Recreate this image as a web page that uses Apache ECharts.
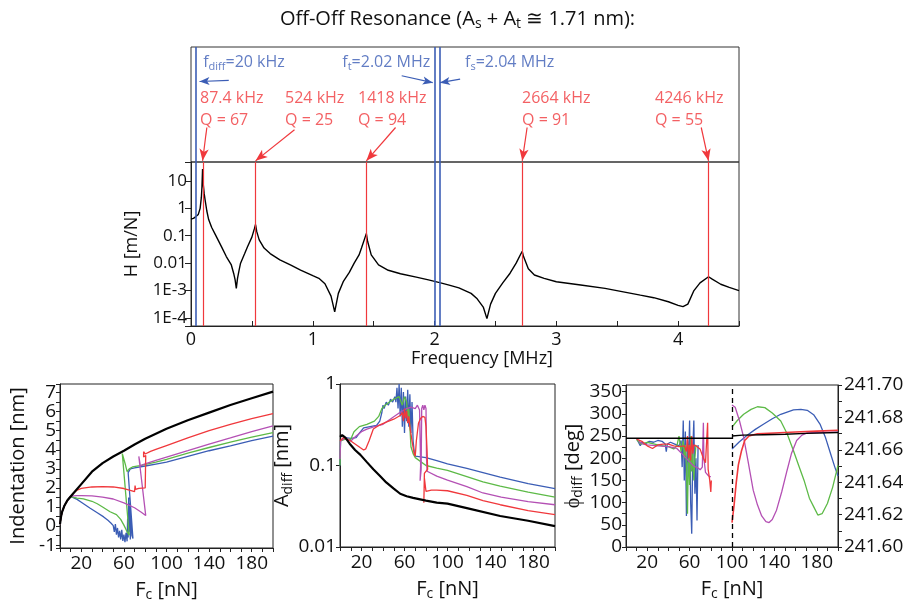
<!DOCTYPE html>
<html><head><meta charset="utf-8">
<script src="https://cdn.jsdelivr.net/npm/echarts@6/dist/echarts.min.js"></script>
<style>html,body{margin:0;padding:0;background:#fff}#c{width:915px;height:610px}</style>
</head><body><div id="c"></div>
<script>
// ---------- DATA ----------
// Main transfer function H(f): frequency [MHz], H [m/N]
const hFreq = [0,0.02,0.04,0.06,0.075,0.085,0.09,0.095,0.1,0.108,0.116,0.13,0.145,0.17,0.2,0.25,0.29,0.33,0.35,0.362,0.372,0.382,0.395,0.407,0.44,0.465,0.5,0.52,0.53,0.54,0.56,0.6,0.65,0.73,0.82,0.9,1.0,1.05,1.1,1.15,1.18,1.21,1.25,1.3,1.34,1.38,1.4,1.43,1.44,1.45,1.48,1.54,1.62,1.72,1.85,1.95,2.05,2.12,2.2,2.3,2.35,2.4,2.43,2.46,2.5,2.56,2.62,2.67,2.71,2.72,2.73,2.77,2.82,2.9,3.0,3.2,3.4,3.55,3.69,3.8,3.92,4.0,4.04,4.08,4.13,4.18,4.25,4.28,4.35,4.42,4.5];
const hVal = [0.41,0.43,0.5,0.6,1.0,2.5,6,27,8,3.5,2.0,0.8,0.39,0.2,0.11,0.04,0.0174,0.0089,0.0043,0.0025,0.0012,0.0028,0.0056,0.01,0.022,0.0407,0.089,0.178,0.257,0.141,0.0708,0.0355,0.0224,0.0132,0.0085,0.0056,0.0035,0.0028,0.00178,0.00063,0.000166,0.00079,0.0021,0.0046,0.01,0.02,0.0355,0.089,0.12,0.063,0.02,0.0087,0.0055,0.0041,0.0031,0.00245,0.0019,0.00158,0.00125,0.00079,0.0005,0.00025,0.000095,0.00032,0.00079,0.0019,0.0043,0.01,0.0224,0.0269,0.0178,0.0063,0.0037,0.0028,0.0021,0.0016,0.0012,0.0009,0.00068,0.00055,0.00039,0.00029,0.00026,0.00032,0.001,0.0019,0.0032,0.0026,0.0017,0.0013,0.001];
const hTickExp = [1,0,-1,-2,-3,-4];
const hTickLabels = ['10','1','0.1','0.01','1E-3','1E-4'];

// Resonances (red) and drive frequencies (blue), MHz
const peakMHz = [0.095,0.53,1.44,2.72,4.25];
const peakKHzText = ['87.4','524','1418','2664','4246'];
const peakQ = [67,25,94,91,55];
const blueMHz = [0.035,2.0,2.035];
const blueSub = ['diff','t','s'];
const blueValText = ['20 kHz','2.02 MHz','2.04 MHz'];

// Indentation [nm] vs Fc [nN]
const indBlack = [[0,0.1],[1,0.5],[2,0.75],[4,1.05],[7,1.35],[12,1.68],[20,2.2],[30,2.85],[40,3.3],[50,3.65],[60,3.95],[70,4.28],[80,4.58],[100,5.1],[120,5.55],[140,5.95],[160,6.35],[180,6.7],[200,7.05]];
const indRed = [[0,0.1],[1,0.5],[2,0.75],[4,1.05],[7,1.35],[10,1.55],[13,1.75],[16,1.88],[20,1.98],[30,2.05],[40,2.07],[50,2.05],[60,1.97],[66,1.87],[70,1.8],[70.5,2.12],[71,1.92],[74,1.98],[80,2.0],[80.5,3.7],[78.5,3.62],[78.5,3.9],[80,3.78],[85,3.92],[90,4.02],[100,4.22],[120,4.62],[140,5.0],[160,5.33],[180,5.63],[200,5.9]];
const indPurple = [[0,0.1],[1,0.5],[2,0.75],[4,1.05],[7,1.35],[10,1.55],[13,1.58],[16,1.6],[20,1.6],[30,1.58],[40,1.52],[50,1.42],[60,1.22],[70,0.96],[76,0.74],[80.5,0.55],[74,3.65],[75.5,3.15],[78,3.22],[82,3.3],[90,3.45],[100,3.62],[120,3.95],[140,4.3],[160,4.62],[180,4.95],[200,5.25]];
const indGreen = [[0,0.1],[1,0.5],[2,0.75],[4,1.05],[7,1.35],[10,1.55],[13,1.5],[16,1.47],[22,1.43],[30,1.3],[35,1.17],[40,1.0],[47,0.75],[53,0.6],[57,0.35],[60,0.05],[63,-0.3],[65,-0.48],[58.5,3.8],[61.5,3.2],[63,2.85],[65,3.0],[68,3.1],[75,3.17],[90,3.35],[100,3.5],[120,3.82],[140,4.12],[160,4.4],[180,4.66],[200,4.9]];
const indBlue = [[0,0.1],[1,0.5],[2,0.75],[4,1.05],[7,1.35],[10,1.55],[13,1.48],[16,1.4],[20,1.25],[28,0.95],[35,0.7],[41,0.48],[45,0.3],[48,0.15],[50,0.02],[51,-0.3],[52,0.1],[53,-0.45],[54,-0.1],[55,-0.6],[56,-0.25],[57,-0.7],[58,-0.2],[59,-0.78],[60,-0.45],[61,-0.85],[62,-0.35],[63,-0.8],[63.5,0.4],[64,-0.6],[64.5,1.5],[65,-0.3],[65.5,1.2],[66,-0.7],[66.5,0.6],[67.5,-0.5],[68.5,-0.65],[64,2.8],[66,3.0],[70,3.05],[80,3.15],[90,3.25],[100,3.35],[120,3.65],[140,3.95],[160,4.2],[180,4.48],[200,4.72]];

// A_diff [nm] vs Fc [nN]
const adBlack = [[0,0.225],[2,0.235],[5,0.22],[9,0.185],[14,0.155],[19,0.135],[25,0.11],[31,0.09],[37,0.075],[43,0.062],[50,0.052],[56,0.045],[62,0.042],[68,0.04],[80,0.037],[90,0.035],[100,0.034],[118,0.03],[149,0.024],[175,0.021],[200,0.018]];
const adBlue = [[0,0.1],[0.5,0.2],[2,0.21],[5,0.22],[10,0.215],[15,0.22],[18,0.25],[22,0.29],[28,0.3],[34,0.31],[37,0.35],[39,0.45],[40,0.55],[41,0.5],[43,0.6],[45,0.55],[47,0.65],[49,0.6],[51,0.7],[52,0.6],[53,0.9],[54,0.5],[55,1.0],[56,0.4],[57,0.9],[58,0.3],[59,0.8],[60,0.25],[61,0.7],[62,0.35],[63,0.85],[64,0.3],[65,0.75],[66,0.25],[67,0.6],[68,0.2],[69,0.15],[70,0.13],[80,0.125],[90,0.115],[100,0.105],[118,0.092],[133,0.082],[149,0.072],[175,0.06],[200,0.052]];
const adGreen = [[0,0.1],[0.5,0.2],[5,0.21],[10,0.21],[13,0.26],[18,0.3],[25,0.32],[32,0.35],[36,0.4],[39,0.5],[42,0.55],[46,0.6],[50,0.65],[55,0.7],[58,0.55],[60,0.7],[62,0.6],[63,0.4],[64,0.5],[65,0.3],[66,0.17],[68,0.14],[70,0.125],[80,0.1],[90,0.093],[100,0.087],[118,0.073],[133,0.063],[149,0.056],[175,0.047],[200,0.041]];
const adPurple = [[0,0.12],[0.5,0.2],[5,0.22],[10,0.2],[15,0.23],[20,0.26],[25,0.28],[32,0.3],[40,0.32],[48,0.38],[56,0.45],[62,0.5],[66,0.52],[70,0.5],[72,0.55],[74,0.48],[75,0.1],[74.5,0.065],[75.5,0.09],[76,0.5],[77,0.55],[78,0.48],[79,0.55],[80,0.5],[80.5,0.12],[81,0.085],[90,0.074],[100,0.066],[118,0.055],[133,0.046],[150,0.041],[175,0.036],[200,0.033]];
const adRed = [[0,0.2],[3,0.22],[6,0.21],[10,0.2],[15,0.18],[19,0.165],[22,0.155],[24,0.16],[27,0.2],[31,0.28],[36,0.31],[43,0.34],[50,0.37],[56,0.41],[58,0.45],[59,0.35],[60,0.5],[61,0.38],[62,0.47],[63,0.33],[64,0.4],[65,0.3],[67,0.2],[69,0.14],[70,0.13],[71,0.2],[73,0.33],[75,0.38],[77,0.4],[79,0.39],[80,0.3],[81,0.15],[81.5,0.09],[78.5,0.08],[78,0.035],[78.5,0.07],[80,0.048],[85,0.05],[90,0.05],[100,0.049],[118,0.043],[133,0.037],[149,0.033],[175,0.028],[200,0.025]];
const adTickExp = [0,-1,-2];
const adTickLabels = ['1','0.1','0.01'];

// phi_diff [deg] vs Fc [nN]
const phSplitF = 100;
const phBlackL = [[0,245],[100,245]];
const phBlackR = [[100,250],[110,252],[130,253],[150,254],[170,256],[200,258]];
const phBlue = [[10,245],[12,235],[13.5,228],[15,236],[18,232],[22,238],[26,236],[30,240],[34,238],[37,232],[38,215],[39,232],[42,236],[46,232],[50,228],[52,240],[53,180],[54,285],[55,150],[56,260],[57,70],[58,240],[59,190],[60,285],[61,100],[62,30],[63,220],[64,285],[65,120],[66,200],[67,60],[68,230]];
const phBlueR = [[100,221],[107,237],[114,251],[122,265],[130,277],[138,289],[146,299],[152,304],[158,309],[165,310],[171,308],[177,298],[183,277],[188,248],[193,210],[197,180],[200,160]];
const phGreen = [[10,242],[14,232],[20,236],[25,233],[30,230],[35,228],[40,226],[45,221],[48,228],[50,250],[52,215],[54,240],[55,200],[56,230],[57,180],[58,75],[59,230],[60,140],[61,250],[62,170],[63,210],[64,150],[65,200],[66,230]];
const phGreenR = [[100,270],[105,285],[111,299],[118,310],[124,316],[131,314],[138,302],[146,284],[152,255],[158,217],[163,183],[168,150],[173,110],[177,91],[181,72],[185,75],[190,98],[195,135],[200,184]];
const phPurple = [[12,238],[16,232],[20,230],[30,228],[40,226],[48,222],[52,212],[56,202],[60,192],[64,182],[68,178],[70,174],[72,180],[73,280],[73.5,200],[75,168],[78,160],[80,158]];
const phPurpleR = [[100,320],[101,322],[103,315],[107,285],[111,247],[115,195],[120,128],[124,95],[128,70],[132,57],[135,55],[138,62],[142,83],[147,125],[152,173],[156,210],[161,240],[166,252],[171,257],[180,258],[200,259]];
const phRed = [[10,243],[15,238],[20,228],[25,222],[30,230],[35,232],[40,232],[45,228],[50,226],[55,228],[57,215],[58,250],[59,200],[60,230],[61,195],[62,250],[63,210],[64,230],[66,228],[70,220],[73,200],[75,190],[77,280],[77.5,175],[79,150],[80,124],[80.5,150]];
const phRedR = [[100,55],[102,95],[104,145],[106,185],[109,217],[112,240],[116,250],[124,255],[140,257],[160,259],[180,261],[200,263]];

// ---------- LAYOUT / STYLE ----------
const FONT = 'Open Sans';
const COL = {blue:'#3b5db5', green:'#5dba47', purple:'#b450b4', red:'#f0383c', black:'#000', axis:'#222'};
// annotation anchors inside the top box (x in MHz, y in 0..1 of box)
const redLabelX = [0.074,0.772,1.371,2.718,3.81];
const redTail = [[0.13,0.3],[0.85,0.28],[1.68,0.3],[2.76,0.3],[4.19,0.3]];
const blueLabelPos = [[0.1,0.87,'right'],[1.965,0.87,'left'],[2.25,0.87,'right']];
const blueTail = [[0.31,0.71],[1.73,0.75],[2.21,0.72]];
const blueHeadX = [0.07,1.985,2.045];
const blueHeadY = [0.70,0.69,0.69];

function rich(fs, color){
  const sf = Math.round(fs*0.7);
  return {
    a:{fontSize:fs, fontFamily:FONT, fontWeight:'normal', color:color, lineHeight:fs+4},
    s:{fontSize:sf, fontFamily:FONT, fontWeight:'normal', color:color, lineHeight:sf, padding:[fs+4-sf,0,0,0]}
  };
}
function logFmt(exps, labels){
  return v => { const e = Math.log10(v); const r = Math.round(e);
    if (Math.abs(e-r) > 1e-6) return ''; const i = exps.indexOf(r); return i < 0 ? '' : labels[i]; };
}
const lbl = (fs) => ({fontSize:fs, color:'#111', fontFamily:FONT});
function baseAxis(extra){
  return Object.assign({
    axisLine:{show:true, onZero:false, lineStyle:{color:COL.axis, width:1}},
    axisTick:{show:true, length:4, lineStyle:{color:COL.axis}},
    splitLine:{show:false}
  }, extra);
}
function line(data, color, xi, yi, w){
  return {type:'line', data:data, xAxisIndex:xi, yAxisIndex:yi, showSymbol:false, symbol:'none', silent:true,
    lineStyle:{color:color, width:w||1.3}, itemStyle:{color:color}, z:3};
}

const fcName = '{a|F}{s|c}{a| [nN]}';
const xBottom = (gi) => baseAxis({gridIndex:gi, type:'value', min:0, max:200, interval:10,
  axisLabel:Object.assign(lbl(19), {interval:0, margin:6, formatter: v => ((v-20)%40===0 ? String(v) : '')}),
  name:fcName, nameLocation:'middle', nameGap:30, nameTextStyle:{rich:rich(20,'#111')}});

const option = {
  animation:false,
  backgroundColor:'#fff',
  title:{text:'{a|Off-Off Resonance (A}{s|s}{a| + A}{s|t}{a| \u2245 1.71 nm):}', left:'center', top:2,
    textStyle:{fontWeight:'normal', rich:rich(20,'#111')}},
  grid:[
    {left:191, top:47, width:548, height:115, show:true, borderColor:'#333', borderWidth:1},
    {left:191, top:162, width:548, height:164, show:true, borderColor:'#333', borderWidth:1},
    {left:60, top:384, width:213, height:164, show:true, borderColor:'#222', borderWidth:1},
    {left:340, top:384, width:215, height:163, show:true, borderColor:'#222', borderWidth:1},
    {left:626, top:385, width:212, height:162, show:true, borderColor:'#222', borderWidth:1}
  ],
  xAxis:[
    {gridIndex:0, type:'value', min:0, max:4.5, show:false},
    baseAxis({gridIndex:1, type:'value', min:0, max:4.5, interval:0.5,
      axisTick:{show:true, inside:true, length:5, lineStyle:{color:COL.axis}},
      axisLabel:Object.assign(lbl(18), {interval:0, margin:5, formatter: v => (Number.isInteger(v) ? String(v) : '')}),
      name:'Frequency [MHz]', nameLocation:'middle', nameGap:21,
      nameTextStyle:{fontSize:18, fontFamily:FONT, color:'#111', padding:[0,0,0,34]}}),
    xBottom(2), xBottom(3), xBottom(4)
  ],
  yAxis:[
    {gridIndex:0, type:'value', min:0, max:1, show:false},
    baseAxis({gridIndex:1, type:'log', logBase:10, min:5.1e-5, max:49,
      axisTick:{show:true, length:6, lineStyle:{color:COL.axis}},
      axisLabel:Object.assign(lbl(17), {interval:0, margin:4, formatter: logFmt(hTickExp, hTickLabels)}),
      name:'H [m/N]', nameLocation:'middle', nameRotate:90, nameGap:50,
      nameTextStyle:{fontSize:18, fontFamily:FONT, color:'#111'}}),
    baseAxis({gridIndex:2, type:'value', min:-1.15, max:7.45, minInterval:0.5, maxInterval:0.5, splitNumber:17,
      axisLabel:Object.assign(lbl(19), {interval:0, margin:4, formatter: v => (Math.abs(v-Math.round(v))<1e-9 ? String(Math.round(v)) : '')}),
      name:'Indentation [nm]', nameLocation:'middle', nameRotate:90, nameGap:32,
      nameTextStyle:{fontSize:20, fontFamily:FONT, color:'#111'}}),
    baseAxis({gridIndex:3, type:'log', logBase:10, min:0.01, max:1,
      axisLabel:Object.assign(lbl(19), {interval:0, margin:4, formatter: logFmt(adTickExp, adTickLabels)}),
      name:'{a|A}{s|diff}{a| [nm]}', nameLocation:'middle', nameRotate:90, nameGap:18,
      nameTextStyle:{rich:rich(20,'#111')}}),
    baseAxis({gridIndex:4, type:'value', min:0, max:365, interval:25,
      axisLabel:Object.assign(lbl(19), {interval:0, margin:4, formatter: v => (v%50===0 ? String(v) : '')}),
      name:'{a|\u03d5}{s|diff}{a| [deg]}', nameLocation:'middle', nameRotate:90, nameGap:24,
      nameTextStyle:{rich:rich(20,'#111')}}),
    baseAxis({gridIndex:4, type:'value', position:'right', min:241.6, max:241.7, interval:0.01,
      axisLabel:Object.assign(lbl(19), {interval:0, margin:6, formatter: v => (Math.round(v*100)%2===0 ? v.toFixed(2) : '')})})
  ],
  series:[
    // annotation box: red labels + arrows
    {type:'scatter', xAxisIndex:0, yAxisIndex:0, symbolSize:0.1, silent:true, itemStyle:{color:'transparent'},
      data: redLabelX.map((x,i)=>({value:[x,0.46],
        label:{formatter:'{r|'+peakKHzText[i]+' kHz}\n{r|Q = '+peakQ[i]+'}'}})),
      label:{show:true, position:'right', distance:0, rich:{r:{fontSize:16, lineHeight:22, fontFamily:FONT, color:COL.red}}},
      markLine:{silent:true, animation:false, label:{show:false}, symbol:['none','arrow'], symbolSize:[7,12],
        lineStyle:{color:COL.red, width:1.2, type:'solid'},
        data: peakMHz.map((x,i)=>[{coord:redTail[i]}, {coord:[x,0.01]}])}},
    // annotation box: blue labels + arrows
    {type:'scatter', xAxisIndex:0, yAxisIndex:0, symbolSize:0.1, silent:true, itemStyle:{color:'transparent'},
      data: blueLabelPos.map((p,i)=>({value:[p[0],p[1]],
        label:{position:p[2], formatter:'{a|f}{s|'+blueSub[i]+'}{a|='+blueValText[i]+'}'}})),
      label:{show:true, distance:0, rich:rich(16,COL.blue)},
      markLine:{silent:true, animation:false, label:{show:false}, symbol:['none','arrow'], symbolSize:[6,10],
        lineStyle:{color:COL.blue, width:1.2, type:'solid'},
        data: blueTail.map((t,i)=>[{coord:t}, {coord:[blueHeadX[i], blueHeadY[i]]}])}},
    // annotation box: blue vertical lines
    {type:'line', xAxisIndex:0, yAxisIndex:0, data:[], silent:true, showSymbol:false,
      markLine:{silent:true, animation:false, label:{show:false}, symbol:['none','none'],
        lineStyle:{color:COL.blue, width:1.6, type:'solid'},
        data: blueMHz.map(x=>({xAxis:x}))}},
    // main H curve
    Object.assign(line(hFreq.map((f,i)=>[f,hVal[i]]), COL.black, 1, 1, 1.4), {
      markLine:{silent:true, animation:false, symbol:['none','none'], label:{show:false},
        data: peakMHz.map(x=>({xAxis:x, lineStyle:{color:COL.red, width:1.2, type:'solid'}})).concat(
          blueMHz.map(x=>({xAxis:x, lineStyle:{color:COL.blue, width:1.6, type:'solid'}})))}}),
    // indentation panel
    line(indBlue, COL.blue, 2, 2), line(indGreen, COL.green, 2, 2), line(indPurple, COL.purple, 2, 2),
    line(indRed, COL.red, 2, 2), line(indBlack, COL.black, 2, 2, 2.2),
    // A_diff panel
    line(adBlue, COL.blue, 3, 3), line(adGreen, COL.green, 3, 3), line(adPurple, COL.purple, 3, 3),
    line(adRed, COL.red, 3, 3), line(adBlack, COL.black, 3, 3, 2.2),
    // phi panel
    line(phBlue, COL.blue, 4, 4), line(phGreen, COL.green, 4, 4), line(phPurple, COL.purple, 4, 4), line(phRed, COL.red, 4, 4),
    line(phBlueR, COL.blue, 4, 4), line(phGreenR, COL.green, 4, 4), line(phPurpleR, COL.purple, 4, 4), line(phRedR, COL.red, 4, 4, 1.6),
    line(phBlackL, COL.black, 4, 4, 1.6),
    Object.assign(line(phBlackR, COL.black, 4, 4, 1.4), {
      markLine:{silent:true, animation:false, symbol:['none','none'], label:{show:false},
        lineStyle:{color:'#000', width:1.3, type:[5,4]}, data:[{xAxis:phSplitF}]}})
  ]
};
const chart = echarts.init(document.getElementById('c'), null, {renderer:'canvas'});
chart.setOption(option);
</script></body></html>
